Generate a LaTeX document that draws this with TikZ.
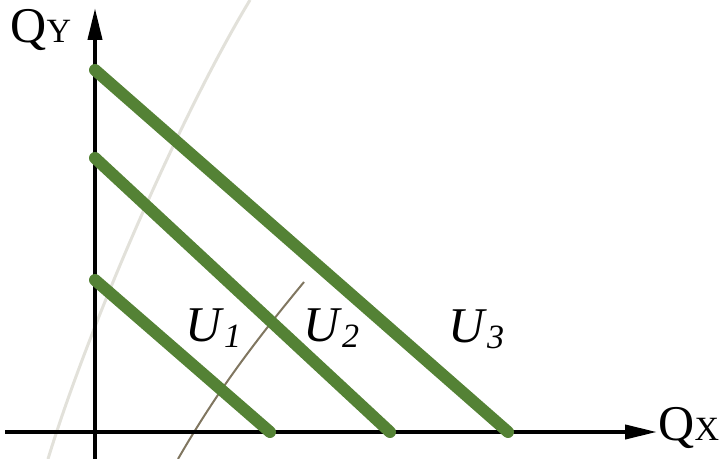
\documentclass[tikz,border=0pt]{standalone}
\usepackage{fontspec}
\setmainfont{Liberation Serif}
\usepackage{xcolor}
\usetikzlibrary{arrows.meta, positioning, calc}

\definecolor{budgetgreen}{RGB}{84,130,53}
\definecolor{curvegray}{RGB}{226,225,218}
\definecolor{curvebrown}{RGB}{128,118,96}

\newcommand{\ulab}[1]{\textit{U}\raisebox{-3pt}{\fontsize{17pt}{17pt}\selectfont\textit{#1}}}
\newcommand{\qlab}[1]{Q{\fontsize{17pt}{17pt}\selectfont #1}}

\begin{document}
\begin{tikzpicture}[x=0.5pt, y=-0.5pt,
    axis/.style={line width=2pt, -{Triangle[length=16pt, width=7pt]}},
    budget/.style={line width=6pt, line cap=round, color=budgetgreen},
    lab/.style={font=\fontsize{25pt}{25pt}\selectfont, inner sep=0pt, anchor=base west}]
    \useasboundingbox (0,0) rectangle (722,459);

    \draw[curvegray, line width=1.5pt] (48,459) .. controls (88,328) and (180,116) .. (250,0);
    \draw[curvebrown, line width=1pt] (178,459) .. controls (215.5,394) and (252,345) .. (304,282);

    \coordinate (xstart) at (5,432);
    \coordinate (xend) at (657,432);
    \coordinate (ystart) at (95,459);
    \coordinate (yend) at (95,8);
    \draw[axis] (xstart) -- (xend);
    \draw[axis] (ystart) -- (yend);

    \coordinate (a1) at (95,280);
    \coordinate (b1) at (270,432);
    \coordinate (a2) at (95,158);
    \coordinate (b2) at (390,432);
    \coordinate (a3) at (95,70);
    \coordinate (b3) at (508,432);
    \draw[budget] (a1) -- (b1);
    \draw[budget] (a2) -- (b2);
    \draw[budget] (a3) -- (b3);

    \node[lab] (qy) at (10,43) {\qlab{Y}};
    \node[lab] (qx) at (658,440) {\qlab{X}};
    \node[lab] (u1) at (185,342) {\ulab{1}};
    \node[lab] (u2) at (303,342) {\ulab{2}};
    \node[lab] (u3) at (448,343) {\ulab{3}};
\end{tikzpicture}
\end{document}
